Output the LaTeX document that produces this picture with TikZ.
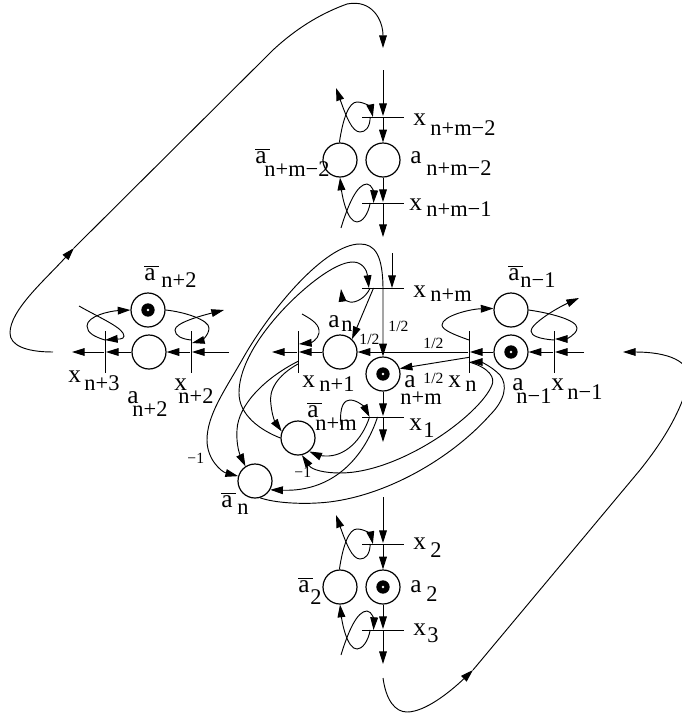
\documentclass[tikz,border=0pt]{standalone}
\usepackage{fontspec}
\setmainfont{Liberation Serif}
\usetikzlibrary{arrows.meta}
\newcommand{\abar}{$\overline{\mbox{a\hspace{2.5pt}}}$}
\tikzset{
  petri/.style={x=0.75pt,y=-0.75pt,line width=0.7pt,>={Stealth[inset=0pt,length=9.5pt,width=5.8pt]}},
  place/.style={circle,draw,line width=0.9pt,minimum size=25.5pt,inner sep=0pt},
  hbar/.style={rectangle,fill=black,minimum width=31.5pt,minimum height=0.7pt,inner sep=0pt},
  vbar/.style={rectangle,fill=black,minimum width=0.7pt,minimum height=31.5pt,inner sep=0pt},
  lab/.style={anchor=base west,inner sep=0pt,font=\fontsize{19}{19}\selectfont},
  sublab/.style={anchor=base west,inner sep=0pt,font=\fontsize{16.8}{17}\selectfont},
  note/.style={anchor=base west,inner sep=0pt,font=\fontsize{11.7}{12}\selectfont}
}

\begin{document}
\begin{tikzpicture}[petri]
    \useasboundingbox (0,0) rectangle (682,718);
    \clip (0,0) rectangle (682,718);
    % top and bottom groups
    \foreach \oy in {0,427} {
      \begin{scope}[shift={(0,\oy)}]
        \node[place] (pa\oy) at (340,160) {};
        \node[place] (pb\oy) at (383,160) {};
        \node[hbar] (xa\oy) at (383,117) {};
        \node[hbar] (xb\oy) at (383,203) {};
        \coordinate (ina\oy) at (383,70);
        \coordinate (outb\oy) at (383,237);
        \coordinate (ta\oy) at (336,88);
        \coordinate (tb\oy) at (341,228);
        \draw[->] (ina\oy) -- (xa\oy);
        \draw[->] (xa\oy) -- (pb\oy);
        \draw[->] (pb\oy) -- (xb\oy);
        \draw[->] (xb\oy) -- (outb\oy);
        \draw[->] (pa\oy.92) .. controls (343,118) and (349,102) .. (357,102) .. controls (365,102) and (371,108) .. ([xshift=8.5pt]xa\oy.west);
        \draw[->] ([xshift=6.5pt]xa\oy.west) .. controls (370,128) and (365,132) .. (360,132) .. controls (352,132) and (346,116) .. (ta\oy);
        \draw[->] (tb\oy) .. controls (348,205) and (357,184) .. (367,184) .. controls (372,184) and (374,194) .. ([xshift=9pt]xb\oy.west);
        \draw[->] ([xshift=6.5pt]xb\oy.west) .. controls (368,215) and (362,222) .. (357,222) .. controls (347,222) and (342,195) .. (pa\oy.south);
      \end{scope}
    }
    % centre
    \node[place] (pc) at (383,374) {};
    \node[place] (pn) at (340,352) {};
    \node[place] (pe) at (298,438) {};
    \node[place] (pf) at (255,481) {};
    \node[hbar] (xnm) at (383,288) {};
    \node[hbar] (xo) at (383,417) {};
    \node[vbar] (xnp) at (298,352) {};
    \node[vbar] (xn) at (469,352) {};
    \coordinate (inm) at (392,253);
    \coordinate (outo) at (383,442);
    \coordinate (outnp) at (272,352);
    \coordinate (tnm) at (341,289);
    \coordinate (snp) at (302,314);
    \coordinate (sxo) at (341,425);
    \draw[->] (inm) -- (392,288);
    \draw[->] (pc) -- (xo);
    \draw[->] (xo) -- (outo);
    \draw[->] (xn) -- (pn);
    \draw[->] (pn) -- (xnp);
    \draw[->] (xnp) -- (outnp);
    \draw[->] ([yshift=-4pt]xn.center) -- (pc.18);
    \draw[->] ([xshift=9pt]xnm.west) -- (pn.47);
    \draw[->] ([xshift=6.5pt]xnm.west) .. controls (365,299) and (355,303) .. (350,302) .. controls (345,301) and (342,297) .. (tnm);
    \draw[->] (snp) .. controls (313,320) and (320,325) .. (319,333) .. controls (318,340) and (310,343) .. (299,344);
    \draw[<->] (pf.164) .. controls (222,472) and (207,460) .. (207,440) .. controls (207,415) and (225,390) .. (242,360) .. controls (270,310) and (325,244) .. (360,244) .. controls (375,244) and (383,255) .. (383,290) -- (pc.north);
    \draw[->] (pe.west) .. controls (260,430) and (239,415) .. (239,393) .. controls (239,360) and (270,320) .. (300,293) .. controls (320,275) and (340,262) .. (353,262) .. controls (362,262) and (367,270) .. ([xshift=5.5pt]xnm.west);
    \draw[->] ([yshift=-9pt]xnp.center) .. controls (278,375) and (268,390) .. (271,405) .. controls (272,415) and (275,422) .. (pe.158);
    \draw[->] ([yshift=-7pt]xnp.center) .. controls (265,378) and (238,405) .. (237,430) .. controls (236,445) and (240,455) .. (pf.123);
    \draw[->] ([xshift=6pt]xo.west) .. controls (362,440) and (345,457) .. (325,456) .. controls (320,456) and (315,454) .. (pe.-50);
    \draw[->] ([xshift=12pt]xo.west) .. controls (365,455) and (335,492) .. (pf.-30);
    \draw[->] (sxo) .. controls (339,405) and (345,400) .. (350,400) .. controls (358,400) and (365,408) .. ([xshift=6pt]xo.west);
    \draw[->] ([yshift=-7.5pt]xn.center) .. controls (490,368) and (495,378) .. (492,385) .. controls (480,415) and (400,473) .. (340,473) .. controls (325,473) and (312,470) .. (pe.-77);
    \draw[->] (pf.-73) .. controls (275,503) and (300,504) .. (317,503) .. controls (380,500) and (450,460) .. (490,415) .. controls (505,400) and (508,385) .. (500,375) .. controls (490,365) and (480,362) .. (470,362);
    % left group
    \node[place] (plt) at (148,310) {};
    \node[place] (plb) at (149,352) {};
    \node[vbar] (xlo) at (105,352) {};
    \node[vbar] (xli) at (191,352) {};
    \coordinate (inl) at (229,352);
    \coordinate (outl) at (72,352);
    \coordinate (sl) at (79,306);
    \coordinate (tl) at (224,310);
    \draw[->] (inl) -- (xli);
    \draw[->] (xli) -- (plb);
    \draw[->] (plb) -- (xlo);
    \draw[->] (xlo) -- (outl);
    \draw[->] (sl) .. controls (100,318) and (124,328) .. (124,336) .. controls (124,340) and (116,339) .. ([yshift=9pt]xlo.center);
    \draw[->] ([yshift=9pt]xlo.center) .. controls (95,337) and (87,333) .. (87,326) .. controls (87,316) and (110,311) .. (plt.west);
    \draw[->] (plt.east) .. controls (185,312) and (209,320) .. (209,328) .. controls (209,336) and (200,341) .. (192,343);
    \draw[->] ([yshift=9pt]xli.center) .. controls (182,339) and (175,336) .. (175,330) .. controls (175,323) and (200,316) .. (tl);
    % right group
    \node[place] (prt) at (511,310) {};
    \node[place] (prb) at (511,352) {};
    \node[vbar] (xri) at (554,352) {};
    \coordinate (inr) at (584,352);
    \coordinate (tr) at (579,298);
    \draw[->] (inr) -- (xri);
    \draw[->] (xri) -- (prb);
    \draw[->] (prb) -- (xn);
    \draw[->] (prt.east) .. controls (550,313) and (577,320) .. (577,328) .. controls (577,335) and (565,339) .. (555,339);
    \draw[->] ([yshift=9pt]xri.center) .. controls (540,339) and (531,336) .. (531,331) .. controls (531,324) and (555,309) .. (tr);
    \draw[->] ([yshift=9pt]xn.center) .. controls (455,335) and (442,330) .. (442,325) .. controls (442,316) and (470,309) .. (prt.175);
    % tokens
    \foreach \p in {pc,plt,prb,pb427} {
      \fill (\p) circle (5pt);
      \fill[white] (\p) circle (1pt);
    }
    % long returns
    \coordinate (lsa) at (53,352);
    \coordinate (lma) at (74,248);
    \coordinate (lta) at (383,48);
    \coordinate (lsb) at (383,678);
    \coordinate (lmb) at (473,670);
    \coordinate (ltb) at (623,352);
    \draw[->] (lsa) .. controls (25,352) and (10,345) .. (10,333) .. controls (10,310) and (45,280) .. (lma);
    \draw[->] (lma) -- (273,50) .. controls (300,25) and (325,12) .. (347,4) .. controls (372,-1) and (383,20) .. (lta);
    \draw[->] (lsb) .. controls (386,700) and (395,712) .. (407,712) .. controls (425,712) and (450,692) .. (lmb);
    \draw[->] (lmb) -- (640,470) .. controls (668,435) and (680,410) .. (688,385) .. controls (695,360) and (665,352) .. (ltb);
    % labels
    \foreach \nm/\px/\py/\tx/\sx/\sy/\st in {
      a/413/125/x/430/135/n+m−2, b/410/163/a/426/175/n+m−2, c/409/210/x/426/216/n+m−1,
      d/255/163/\abar/264/176/n+m−2, e/413/297/x/430/301/n+m, f/328/327/a/341/331/n,
      g/302/387/x/319/391/n+1, h/404/387/a/400/404/n+m, i/448/387/x/465/391/n,
      j/307/417/\abar/315/430/n+m, k/409/430/x/423/437/1, l/221/507/\abar/237/514/n,
      m/144/280/\abar/161/287/n+2, o/68/382/x/84/390/n+3, q/127/403/a/132/416/n+2,
      r/174/390/x/178/403/n+2, s/508/280/\abar/520/287/n−1, t/512/390/a/516/403/n−1,
      u/551/390/x/567/399/n−1, v/413/549/x/430/557/2, w/298/592/\abar/310/604/2,
      y/410/592/a/426/601/2, z/413/635/x/427/642/3} {
      \node[lab] (l\nm) at (\px,\py) {\tx};
      \node[sublab] (s\nm) at (\sx,\sy) {\st};
    }
    \foreach \nm/\px/\py in {a/388/331,b/359/344,c/423/348,d/423/383} \node[note] (half\nm) at (\px,\py) {1/2};
    \foreach \nm/\px/\py in {a/187/463,b/294/477} \node[note] (neg\nm) at (\px,\py) {−1};
\end{tikzpicture}
\end{document}
